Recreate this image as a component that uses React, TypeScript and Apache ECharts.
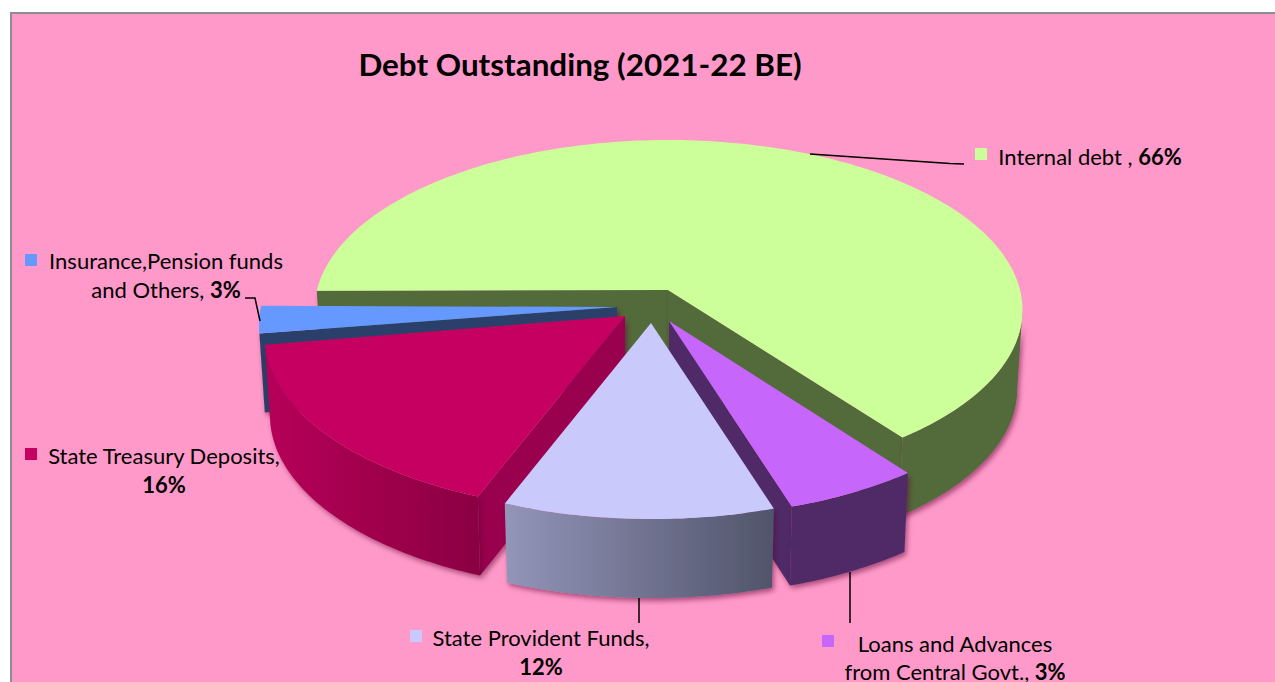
import React, { useEffect, useRef } from "react";
import * as echarts from "echarts";

const titleText = "Debt Outstanding (2021-22 BE)";
const sliceNames = [
  "Internal debt",
  "Loans and Advances from Central Govt.",
  "State Provident Funds",
  "State Treasury Deposits",
  "Insurance,Pension funds and Others",
];
// share of the circle each slice occupies in the picture, clockwise
const drawnShares = [61.7, 6.0, 12.2, 17.5, 2.6];
// percentages printed in the labels
const labelPercents = [66, 3, 12, 16, 3];
const topColors = ["#ccff99", "#c666fb", "#c9c9fb", "#c60060", "#6699ff"];

const START_ANGLE = 186.5;
const DEPTH = 79;
const BOTTOM_SHRINK = 0.985;

// paint order, back to front
const paintOrder = [0, 4, 3, 1, 2];
// ellipse of every exploded slice in page pixels
const layouts = [
  { cx: 668.5, cy: 310, rx: 354, ry: 170, ax: 668, ay: 290 },
  { cx: 670, cy: 341, rx: 360, ry: 176, ax: 669, ay: 321 },
  { cx: 652, cy: 343, rx: 360, ry: 176, ax: 651, ay: 323 },
  { cx: 625.5, cy: 336, rx: 361, ry: 176, ax: 625, ay: 316 },
  { cx: 617, cy: 325, rx: 358, ry: 170, ax: 617, ay: 307 },
];
// which cut faces can be seen: [edge at the start angle, edge at the end angle]
const cutFaces = [
  [true, true],
  [false, true],
  [false, false],
  [true, false],
  [true, false],
];
const outerFill: any[] = [
  "#526a3b",
  "#4f2a66",
  new echarts.graphic.LinearGradient(0, 0, 1, 0, [
    { offset: 0, color: "#9395b9" },
    { offset: 1, color: "#50546a" },
  ]),
  new echarts.graphic.LinearGradient(0, 0, 1, 0, [
    { offset: 0, color: "#b60059" },
    { offset: 1, color: "#8a0042" },
  ]),
  "#2a3f6b",
];
const innerFill = ["#526a3b", "#4f2a66", "#50546a", "#99004e", "#2a3f6b"];

const FONT = "Lato, Carlito, 'Noto Sans', sans-serif";
const LABEL_SIZE = 22;
const makeRich = (lineHeight: number) => ({
  n: { fontFamily: FONT, fontSize: LABEL_SIZE, color: "#000", lineHeight },
  b: { fontFamily: FONT, fontSize: LABEL_SIZE, fontWeight: "bold" as const, color: "#000", lineHeight },
});
const labelLines = [
  { x: 1090, y: 156, text: `{n|Internal debt , }{b|${labelPercents[0]}%}`, key: [975, 148] },
  { x: 955, y: 643, text: `{n|Loans and Advances}`, key: [822, 635] },
  { x: 541, y: 652, text: `{n|State Provident Funds,}\n{b|${labelPercents[2]}%}`, key: [410, 630] },
  { x: 164, y: 470, text: `{n|State Treasury Deposits,}\n{b|${labelPercents[3]}%}`, key: [25, 448] },
  { x: 166, y: 275, text: `{n|Insurance,Pension funds}\n{n|and Others, }{b|${labelPercents[4]}%}`, key: [25, 254] },
];
const loansSecondLine = { x: 955, y: 671.5, text: `{n|from Central Govt., }{b|${labelPercents[1]}%}` };
const leaders = [
  [[810, 154], [950, 163.6], [964, 164]],
  [[850, 572], [850, 623]],
  [[639, 598], [639, 623]],
  [[245, 298], [255, 298], [260, 321]],
];

const startAngles = drawnShares.map((_, i) =>
  START_ANGLE + drawnShares.slice(0, i).reduce((s, v) => s + (v / 100) * 360, 0)
);

function rimPoint(l: any, deg: number, bottom: boolean) {
  const r = (deg * Math.PI) / 180;
  const k = bottom ? BOTTOM_SHRINK : 1;
  return [l.cx + l.rx * k * Math.cos(r), l.cy + l.ry * Math.sin(r) + (bottom ? DEPTH : 0)];
}

function arc(l: any, a0: number, a1: number, bottom: boolean) {
  const pts: number[][] = [];
  const n = Math.max(2, Math.ceil(Math.abs(a1 - a0)));
  for (let i = 0; i <= n; i++) pts.push(rimPoint(l, a0 + ((a1 - a0) * i) / n, bottom));
  return pts;
}

const shadow = {
  shadowBlur: 5,
  shadowOffsetX: 2,
  shadowOffsetY: 3,
  shadowColor: "rgba(90,0,50,0.5)",
};

function renderSlice(_: any, api: any) {
  const i = api.value(0);
  const share = api.value(1);
  const l = layouts[i];
  const a0 = startAngles[i];
  const a1 = a0 + (share / 100) * 360;
  const apexTop = [l.ax, l.ay];
  const apexBottom = [l.ax, l.ay + DEPTH];
  const children: any[] = [];

  const quad = (deg: number) => ({
    type: "polygon",
    shape: { points: [apexTop, rimPoint(l, deg, false), rimPoint(l, deg, true), apexBottom] },
    style: { fill: innerFill[i], ...shadow },
  });
  if (cutFaces[i][0]) children.push(quad(a0));
  if (cutFaces[i][1]) children.push(quad(a1));

  // the part of the outer wall that faces the viewer: between 0 and 180 degrees, modulo a turn
  const spans = [
    [Math.max(a0, 0), Math.min(a1, 180)],
    [Math.max(a0, 360), Math.min(a1, 540)],
  ];
  spans.forEach(([s, e]) => {
    if (e <= s) return;
    const top = arc(l, s, e, false);
    const bot = arc(l, e, s, true);
    children.push({
      type: "polygon",
      shape: { points: [...top, ...bot] },
      style: { fill: outerFill[i], ...shadow },
    });
  });

  children.push({
    type: "polygon",
    shape: { points: [apexTop, ...arc(l, a0, a1, false)] },
    style: { fill: topColors[i] },
  });
  return { type: "group", children };
}

export default function App() {
  const ref = useRef<HTMLDivElement>(null);
  useEffect(() => {
    document.body.style.margin = "0";
    document.body.style.overflow = "hidden";
    const chart = echarts.init(ref.current!, undefined, { renderer: "svg" });
    const textEl = (x: number, y: number, text: string, lineHeight: number) => ({
      type: "text",
      z: 20,
      x,
      y,
      style: { text, rich: makeRich(lineHeight), align: "center", verticalAlign: "middle" },
    });
    const elements: any[] = [
      {
        type: "rect",
        z: -10,
        shape: { x: 11, y: 13, width: 1300, height: 720 },
        style: { fill: "#ff99c9", stroke: "#8e8e8e", lineWidth: 2 },
      },
      {
        type: "text",
        z: 20,
        x: 580,
        y: 63.5,
        style: {
          text: titleText,
          fontFamily: FONT,
          fontSize: 31.4,
          fontWeight: "bold",
          fill: "#000",
          align: "center",
          verticalAlign: "middle",
        },
      },
    ];
    leaders.forEach((points) =>
      elements.push({
        type: "polyline",
        z: 20,
        shape: { points },
        style: { stroke: "#000", lineWidth: 1.5, fill: "none" },
      })
    );
    labelLines.forEach((lab, i) => {
      elements.push({
        type: "rect",
        z: 20,
        shape: { x: lab.key[0], y: lab.key[1], width: 12, height: 12 },
        style: { fill: topColors[i] },
      });
      elements.push(textEl(lab.x, lab.y, lab.text, 29));
    });
    elements.push(textEl(loansSecondLine.x, loansSecondLine.y, loansSecondLine.text, 20));
    chart.setOption({
      animation: false,
      backgroundColor: "#ffffff",
      graphic: { elements },
      series: [
        {
          type: "custom",
          coordinateSystem: "none",
          z: 2,
          silent: true,
          renderItem: renderSlice,
          data: paintOrder.map((i) => ({ name: sliceNames[i], value: [i, drawnShares[i]] })),
        },
      ],
    });
    return () => chart.dispose();
  }, []);
  return <div ref={ref} style={{ width: 1275, height: 682 }} />;
}
